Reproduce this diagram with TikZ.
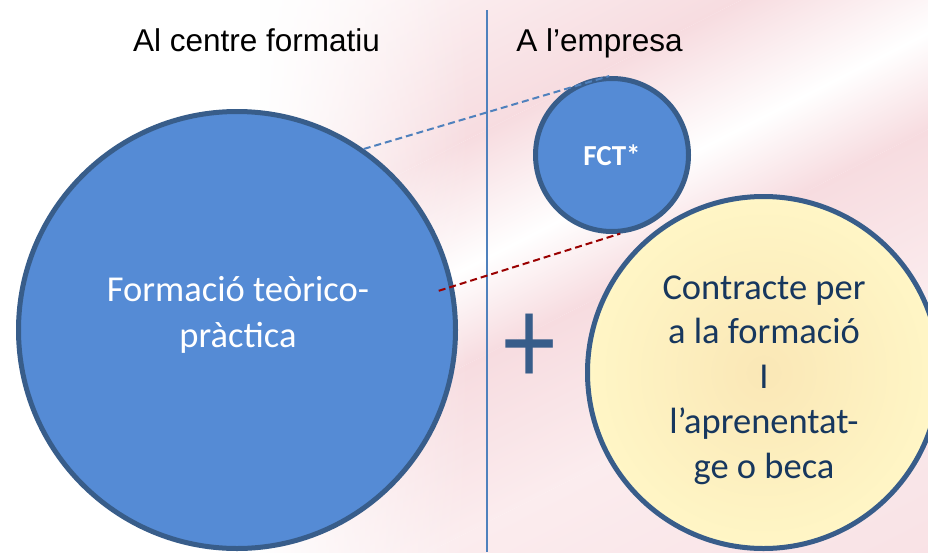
\documentclass[tikz,border=0pt]{standalone}
\usepackage{fontspec}
\setmainfont{Liberation Sans}
\newfontfamily\calfont{Carlito}
\usetikzlibrary{calc,fadings}
\definecolor{pk}{HTML}{F7DCE0}
\definecolor{pkl}{HTML}{FBECEE}
\definecolor{bfill}{HTML}{558BD5}
\definecolor{bedge}{HTML}{385D8A}
\definecolor{ytext}{HTML}{17375E}
\definecolor{dblue}{HTML}{4F81BD}
\definecolor{dred}{HTML}{9A0000}
\definecolor{yin}{HTML}{FAE7B6}
\definecolor{yout}{HTML}{FFF6C6}
\begin{document}
\begin{tikzpicture}[x=1pt,y=-1pt,
  bluecirc/.style={circle, draw=bedge, line width=5pt, fill=bfill, inner sep=0pt},
  yelcirc/.style={circle, draw=bedge, line width=5pt, inner color=yin, outer color=yout, inner sep=0pt},
  titletxt/.style={anchor=base, inner sep=0pt, text=black, font=\fontsize{31.5}{37}\selectfont},
  circtxt/.style={anchor=base, inner sep=0pt, align=center},
  dashblue/.style={draw=dblue, line width=2pt, dash pattern=on 7pt off 4pt},
  dashred/.style={draw=dred, line width=2pt, dash pattern=on 7pt off 4pt},
  divider/.style={draw=dblue, line width=1.3pt}]
\useasboundingbox (0,0) rectangle (928,552);
% background
\begin{scope}
  \clip (0,0) rectangle (928,552);
  \fill[white] (0,0) rectangle (928,552);
  \begin{scope}[transform canvas={rotate around={27:(464,276)}}]
    \shade[top color=white, bottom color=pk] (-700,-124) rectangle (1700,156);
    \shade[top color=pk, bottom color=white] (-700,156) rectangle (1700,270);
    \shade[top color=white, bottom color=pk] (-700,270) rectangle (1700,356);
    \shade[top color=pk, bottom color=pkl] (-700,356) rectangle (1700,506);
    \shade[top color=pkl, bottom color=pk] (-700,506) rectangle (1700,876);
  \end{scope}
  \fill[white] (-2,-2) rectangle (260,554);
  \fill[white, path fading=east] (258,-2) rectangle (470,554);
\end{scope}
% divider
\coordinate (vtop) at (487,10);
\coordinate (vbot) at (487,552);
\draw[divider] (vtop) -- (vbot);
% titles
\node[titletxt] (t1) at (256.5,51) {Al centre formatiu};
\node[titletxt] (t2) at (599.5,51) {A l’empresa};
% circles
\node[bluecirc, minimum size=437pt] (form) at (237,330) {};
\node[bluecirc, minimum size=153pt] (fct) at (612,155) {};
\node[yelcirc, minimum size=352pt] (contr) at (763.5,372.5) {};
% texts (base anchor = baseline of the last line)
\node[circtxt, text=white, font=\calfont\fontsize{36.5}{46}\selectfont] (formtxt) at (238,347) {Formació teòrico-\\pràctica};
\node[circtxt, text=white, font=\calfont\bfseries\fontsize{29}{30}\selectfont] (fcttxt) at (612,165) {FCT*};
\node[circtxt, text=ytext, font=\calfont\fontsize{36.5}{44.75}\selectfont] (contrtxt) at (764,478) {Contracte per\\a la formació\\I\\l’aprenentat-\\ge o beca};
\node[inner sep=0pt, text=bedge, font=\calfont\fontsize{105}{110}\selectfont] (plus) at (529.5,349) {\scalebox{1}[1.22]{+}};
% dashed links
\draw[dashblue] (form.55) -- (fct.92);
\draw[dashred] ($(form.center)!0.93!(form.11)$) -- (fct.-84);
\end{tikzpicture}
\end{document}
